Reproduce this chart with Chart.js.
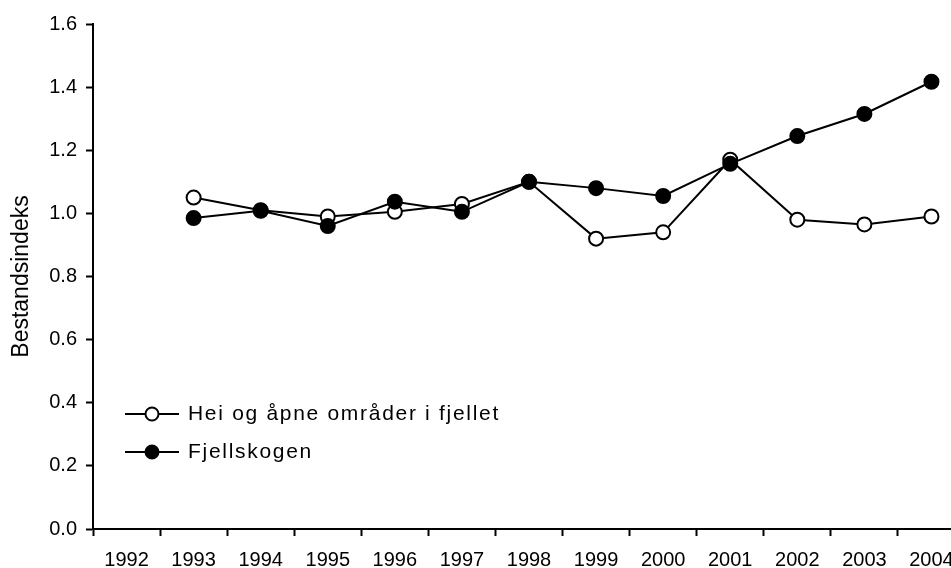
<!DOCTYPE html>
<html>
<head>
<meta charset="utf-8">
<script src="https://cdn.jsdelivr.net/npm/chart.js@4/dist/chart.umd.min.js"></script>
<style>
    html, body { margin: 0; padding: 0; background: #fff; overflow: hidden; }
    #wrap { width: 1000px; height: 568px; }
</style>
</head>
<body>
<div id="wrap"><canvas id="chart" width="1000" height="568"></canvas></div>
<script>
// ==================== Data ====================

const years = ['1992', '1993', '1994', '1995', '1996', '1997', '1998',
               '1999', '2000', '2001', '2002', '2003', '2004'];

const heiValues = [null, 1.05, 1.01, 0.99, 1.005, 1.03, 1.10,
                   0.92, 0.94, 1.17, 0.98, 0.965, 0.99];

const fjellskogValues = [null, 0.985, 1.008, 0.96, 1.037, 1.005, 1.10,
                         1.08, 1.055, 1.157, 1.245, 1.315, 1.417];

const seriesNames = ['Hei og åpne områder i fjellet', 'Fjellskogen'];
const yTitle = 'Bestandsindeks';

const FONT = "'Liberation Sans', Arial, sans-serif";

// ==================== Legend inside plot ====================

const insideLegend = {
    id: 'insideLegend',
    afterDraw(chart) {
        const ctx = chart.ctx;
        const rows = [
            { y: 414, ds: chart.data.datasets[0] },
            { y: 452, ds: chart.data.datasets[1] }
        ];
        ctx.save();
        rows.forEach(row => {
            ctx.strokeStyle = '#000';
            ctx.lineWidth = 2;
            ctx.beginPath();
            ctx.moveTo(125, row.y);
            ctx.lineTo(179, row.y);
            ctx.stroke();
            ctx.beginPath();
            ctx.arc(152, row.y, 6.5, 0, Math.PI * 2);
            ctx.fillStyle = row.ds.pointBackgroundColor;
            ctx.fill();
            ctx.stroke();
            ctx.fillStyle = '#000';
            ctx.font = '21px ' + FONT;
            ctx.letterSpacing = '1.7px';
            ctx.textBaseline = 'middle';
            ctx.textAlign = 'left';
            ctx.fillText(row.ds.label, 188, row.y);
        });
        ctx.restore();
    }
};

// ==================== Chart ====================

new Chart(document.getElementById('chart'), {
    type: 'line',
    data: {
        labels: years,
        datasets: [{
            label: seriesNames[0],
            data: heiValues,
            order: 1,
            borderColor: '#000',
            borderWidth: 2,
            pointRadius: 7,
            pointBorderWidth: 2,
            pointBorderColor: '#000',
            pointBackgroundColor: '#fff',
            tension: 0
        }, {
            label: seriesNames[1],
            data: fjellskogValues,
            order: 0,
            borderColor: '#000',
            borderWidth: 2,
            pointRadius: 7,
            pointBorderWidth: 2,
            pointBorderColor: '#000',
            pointBackgroundColor: '#000',
            tension: 0
        }]
    },
    options: {
        responsive: false,
        animation: false,
        layout: { padding: { top: 24, right: 35, bottom: 0, left: 0 } },
        plugins: {
            legend: { display: false },
            tooltip: { enabled: false }
        },
        scales: {
            x: {
                offset: true,
                afterFit(scale) { scale.height = 39; },
                grid: {
                    offset: true,
                    drawOnChartArea: false,
                    drawTicks: true,
                    tickLength: 7,
                    tickWidth: 2,
                    tickColor: '#000'
                },
                border: { color: '#000', width: 2 },
                ticks: {
                    color: '#000',
                    font: { family: FONT, size: 20 },
                    padding: 12,
                    maxRotation: 0,
                    autoSkip: false
                }
            },
            y: {
                min: 0,
                max: 1.6,
                afterFit(scale) { scale.width = 93; },
                grid: {
                    drawOnChartArea: false,
                    drawTicks: true,
                    tickLength: 7,
                    tickWidth: 2,
                    tickColor: '#000'
                },
                border: { color: '#000', width: 2 },
                title: {
                    display: true,
                    text: yTitle,
                    color: '#000',
                    font: { family: FONT, size: 23 },
                    padding: { top: 8, bottom: 0 }
                },
                ticks: {
                    stepSize: 0.2,
                    color: '#000',
                    padding: 9,
                    font: { family: FONT, size: 20 },
                    callback: v => v.toFixed(1)
                }
            }
        }
    },
    plugins: [insideLegend]
});
</script>
</body>
</html>
